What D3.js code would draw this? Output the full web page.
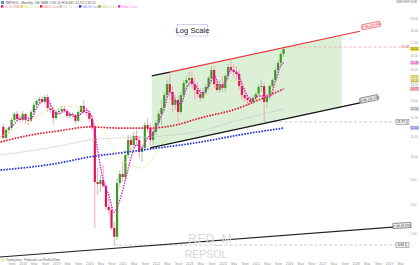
<!DOCTYPE html>
<html>
<head>
<meta charset="utf-8">
<script src="https://cdn.jsdelivr.net/npm/d3@7"></script>
<style>
  body { margin: 0; background: #fff; }
  svg { display: block; font-family: "Liberation Sans", Arial, sans-serif; }
</style>
</head>
<body>
<div id="chart"></div>
<script>
// monthly candles, first one is Jun 2017 (month index counted from Jan 2018)
var firstMonth = -7;
var opens = [11.50, 10.93, 11.34, 11.44, 11.88, 12.22, 11.94,
  11.88, 12.22, 11.88, 11.83, 12.33, 12.74, 12.98, 13.10, 12.92, 13.22, 12.56, 12.44,
  11.99, 12.33, 12.39, 12.50, 12.39, 12.10, 12.22, 12.16, 11.83, 12.33, 12.68, 12.33,
  12.27, 11.94, 11.50, 8.90, 8.82, 8.98, 8.74, 7.93, 7.81, 7.19, 6.90, 8.86,
  9.24, 9.11, 10.09, 10.82, 10.57, 11.03, 10.82, 10.24, 10.43, 11.60, 11.44, 10.82,
  11.24, 11.72, 12.22, 12.56, 13.34, 14.04, 13.53, 12.74, 13.04, 12.33, 13.34, 14.11,
  14.31, 14.44, 14.04, 13.66, 13.40, 13.16, 13.53, 13.85, 14.44, 14.99, 14.04, 13.66,
  14.04, 13.78, 14.58, 15.20, 14.99, 14.85, 14.71, 13.91, 13.34, 13.16, 13.04, 12.92,
  13.16, 13.40, 13.85, 13.91, 12.92, 13.28, 13.91, 14.31, 14.99, 15.49, 16.15];
var highs = [11.66, 11.44, 11.55, 11.99, 12.33, 12.39, 12.16,
  12.39, 12.27, 12.10, 12.44, 12.92, 13.10, 13.22, 13.28, 13.34, 13.40, 12.86, 12.62,
  12.44, 12.56, 12.68, 12.68, 12.50, 12.33, 12.33, 12.22, 12.44, 12.74, 13.04, 12.56,
  12.44, 12.16, 11.66, 9.50, 9.20, 9.63, 8.90, 8.27, 7.96, 7.39, 9.07, 9.41,
  9.77, 10.33, 11.08, 11.08, 11.24, 11.34, 11.03, 10.62, 11.77, 11.99, 11.72, 11.44,
  11.88, 12.44, 13.04, 13.53, 14.31, 14.85, 13.91, 13.34, 13.28, 13.53, 14.31, 14.58,
  14.85, 14.92, 14.44, 14.17, 13.78, 13.78, 14.04, 14.58, 15.27, 15.27, 14.31, 14.31,
  14.58, 14.71, 15.41, 15.70, 15.41, 15.27, 14.99, 14.31, 13.78, 13.40, 13.28, 13.34,
  13.53, 14.04, 14.31, 14.17, 13.40, 14.04, 14.44, 15.13, 15.70, 16.30, 16.68];
var lows = [10.82, 10.82, 11.13, 11.34, 11.77, 11.83, 11.72,
  11.77, 11.66, 11.60, 11.77, 12.22, 12.56, 12.80, 12.80, 12.80, 12.33, 12.27, 11.60,
  11.88, 12.22, 12.27, 12.27, 11.99, 11.99, 11.99, 11.66, 11.77, 12.16, 12.22, 12.10,
  11.77, 11.34, 7.19, 8.38, 8.50, 8.66, 7.81, 7.64, 7.12, 6.64, 6.80, 8.66,
  8.90, 8.98, 9.95, 10.33, 10.43, 10.57, 9.95, 9.77, 10.33, 11.24, 10.52, 10.57,
  11.08, 11.44, 11.60, 12.33, 13.16, 13.04, 12.33, 12.44, 11.77, 12.22, 13.16, 13.66,
  13.91, 13.78, 13.04, 13.16, 12.92, 13.04, 13.34, 13.66, 14.17, 13.78, 13.53, 13.47,
  13.53, 13.53, 14.31, 14.71, 14.44, 14.31, 13.66, 13.04, 12.92, 12.68, 12.74, 12.80,
  12.98, 13.28, 13.53, 11.77, 12.56, 13.04, 13.66, 14.17, 14.78, 15.27, 15.92];
var closes = [10.93, 11.34, 11.44, 11.88, 12.22, 11.94, 11.88,
  12.22, 11.88, 11.83, 12.33, 12.74, 12.98, 13.10, 12.92, 13.22, 12.56, 12.44, 11.99,
  12.33, 12.39, 12.50, 12.39, 12.10, 12.22, 12.16, 11.83, 12.33, 12.68, 12.33, 12.27,
  11.94, 11.50, 8.90, 8.82, 8.98, 8.74, 7.93, 7.81, 7.19, 6.90, 8.86, 9.24,
  9.11, 10.09, 10.82, 10.57, 11.03, 10.82, 10.24, 10.43, 11.60, 11.44, 10.82, 11.24,
  11.72, 12.22, 12.56, 13.34, 14.04, 13.53, 12.74, 13.04, 12.33, 13.34, 14.11, 14.31,
  14.44, 14.04, 13.66, 13.40, 13.16, 13.53, 13.85, 14.44, 14.99, 14.04, 13.66, 14.04,
  13.78, 14.58, 15.20, 14.99, 14.85, 14.71, 13.91, 13.34, 13.16, 13.04, 12.92, 13.16,
  13.40, 13.85, 13.91, 12.92, 13.28, 13.91, 14.31, 14.99, 15.49, 16.15, 16.52];

// moving averages: [month index, price]
var maFast = [[-5, 11.44], [-3, 11.66], [-1, 11.99], [1, 11.99], [3, 11.94], [5, 12.56], [7, 12.98],
  [9, 13.04], [11, 12.44], [13, 12.22], [15, 12.39], [17, 12.22], [19, 12.05], [21, 12.22], [23, 12.44],
  [25, 11.99], [27, 10.33], [29, 8.98], [31, 8.38], [33, 7.74], [35, 8.19], [37, 8.98], [39, 9.95],
  [41, 10.57], [43, 10.43], [45, 10.93], [47, 11.18], [49, 11.77], [51, 12.56], [53, 13.53], [55, 13.04],
  [57, 12.80], [59, 13.78], [61, 14.17], [63, 13.78], [65, 13.40], [67, 13.91], [69, 14.58], [71, 13.91],
  [73, 14.17], [75, 14.99], [77, 14.85], [79, 14.04], [81, 13.28], [83, 13.04], [85, 13.28], [87, 13.28],
  [89, 13.22], [91, 14.17], [93, 15.27], [94, 15.49]];
var maYellow = [[-8, 10.98], [3, 11.88], [12, 12.62], [17, 12.68], [24, 12.27], [30, 11.08], [35, 9.95],
  [43, 9.50], [49, 10.33], [55, 11.60], [64, 13.04], [71, 13.98], [77, 14.31], [83, 13.78], [87, 13.22], [94, 14.51]];
var maRed = [[-8, 10.72], [3, 11.08], [13, 11.29], [24, 11.50], [35, 11.44], [46, 11.44], [55, 11.60],
  [64, 11.99], [78, 12.56], [85, 13.04], [94, 13.72]];
var maGrey = [[-8, 10.09], [13, 10.52], [24, 10.82], [35, 10.93], [46, 10.98], [64, 11.29], [78, 11.88], [94, 12.50]];
var maBlue = [[-8, 9.41], [13, 9.72], [24, 10.00], [35, 10.19], [46, 10.38], [64, 10.72], [78, 11.08], [94, 11.44]];

// drawn objects: channel and support line, [month, price] ends
var channelTop = [[46.5, 14.58], [121.5, 17.95]];
var channelBottom = [[45.9, 10.43], [121.5, 12.86]];
var supportLine = [[-8.2, 6.28], [139.6, 7.26]];
var levels = [{ from: 94, price: 16.68, color: "#f2a3a8" }, { from: 87, price: 11.77, color: "#bdbdbd" }, { from: 33, price: 6.64, color: "#bdbdbd" }];

var priceTicks = [7, 8, 9, 10, 11, 12, 13, 14, 15, 16, 17, 18, 19];
var monthNames = { 0: null, 4: "May", 8: "Sept" };

var legendItems = [
  { color: "#e8174a", text: "Vol 20 SMA" },
  { color: "#d8d020", text: "MA 12 close" },
  { color: "#e8172b", text: "MA 50 close" },
  { color: "#b8b8b8", text: "MA 100 close" },
  { color: "#1a2fe0", text: "MA 200 close" },
  { color: "#a8a020", text: "MA 12 close" },
  { color: "#d61fd6", text: "EMA 5 close" }
];

var W = 420, H = 265, plotRight = 409, plotBottom = 258;

var svg = d3.select("#chart").append("svg")
  .attr("width", W)
  .attr("height", H);

var x = d3.scaleLinear().domain([0, 120]).range([22.7, 355.7]);
var y = d3.scaleLog().domain([10, 20]).range([157, 7.97]);

svg.append("clipPath").attr("id", "plot")
  .append("rect").attr("x", 0).attr("y", 0).attr("width", plotRight).attr("height", plotBottom);

var plot = svg.append("g").attr("clip-path", "url(#plot)");

// watermark
svg.append("text").attr("x", 210).attr("y", 243).attr("text-anchor", "middle")
  .attr("font-size", 12.5).attr("fill", "#dcdcdc").text("RED_M");
svg.append("text").attr("x", 206).attr("y", 258).attr("text-anchor", "middle")
  .attr("font-size", 10.5).attr("fill", "#d6d6d6").text("REPSOL");

// channel fill
var fx0 = channelTop[0][0], fx1 = 115;
function lineAt(seg, m) {
  var t = (m - seg[0][0]) / (seg[1][0] - seg[0][0]);
  return Math.exp(Math.log(seg[0][1]) + t * (Math.log(seg[1][1]) - Math.log(seg[0][1])));
}
var fillPts = [[fx0, lineAt(channelTop, fx0)], [fx1, lineAt(channelTop, fx1)],
  [fx1, lineAt(channelBottom, fx1)], [fx0, lineAt(channelBottom, fx0)]];
plot.append("path")
  .attr("d", "M" + fillPts.map(d => x(d[0]) + "," + y(d[1])).join("L") + "Z")
  .attr("fill", "#dcf0d8");

// horizontal levels
levels.forEach(function(l) {
  plot.append("line")
    .attr("x1", x(l.from)).attr("x2", 400)
    .attr("y1", y(l.price)).attr("y2", y(l.price))
    .attr("stroke", l.color).attr("stroke-width", 0.8)
    .attr("stroke-dasharray", "3,2");
});

// candles
var candles = opens.map(function(o, i) {
  return { m: firstMonth + i, o: o, h: highs[i], l: lows[i], c: closes[i] };
});
var up = "#3a9c22", down = "#e3184c";
plot.selectAll(".wick").data(candles).enter().append("line")
  .attr("x1", d => x(d.m)).attr("x2", d => x(d.m))
  .attr("y1", d => y(d.h)).attr("y2", d => y(d.l))
  .attr("stroke", d => d.c >= d.o ? "#9cc98e" : "#f1a0b4")
  .attr("stroke-width", 0.9);
plot.selectAll(".body").data(candles).enter().append("rect")
  .attr("x", d => x(d.m) - 1.1)
  .attr("width", 2.2)
  .attr("y", d => y(Math.max(d.o, d.c)))
  .attr("height", d => Math.max(0.8, Math.abs(y(d.o) - y(d.c))))
  .attr("fill", d => d.c >= d.o ? up : down);

// moving averages
var line = d3.line().x(d => x(d[0])).y(d => y(d[1])).curve(d3.curveMonotoneX);
function drawMa(data, color, width, dash) {
  plot.append("path").datum(data)
    .attr("d", line)
    .attr("fill", "none")
    .attr("stroke", color)
    .attr("stroke-width", width)
    .attr("stroke-dasharray", dash);
}
drawMa(maBlue, "#1a2fe0", 1.7, "1.6,1.3");
drawMa(maGrey, "#c4c4c4", 1, "1.2,1");
drawMa(maRed, "#e8172b", 1.7, "1.6,1.3");
drawMa(maYellow, "#e6e48c", 0.8, "2,1");
drawMa(maFast, "#d61fd6", 1.4, "1.4,1.2");

// channel and support lines
var straight = d3.line().x(d => x(d[0])).y(d => y(d[1]));
var redStart = 53;
plot.append("path").datum([channelTop[0], [redStart, lineAt(channelTop, redStart)]])
  .attr("d", straight).attr("stroke", "#111").attr("stroke-width", 1.2);
plot.append("path").datum([[redStart, lineAt(channelTop, redStart)], channelTop[1]])
  .attr("d", straight).attr("stroke", "#e8313b").attr("stroke-width", 1.2);
plot.append("path").datum(channelBottom)
  .attr("d", straight).attr("stroke", "#111").attr("stroke-width", 1.2);
plot.append("path").datum(supportLine)
  .attr("d", straight).attr("stroke", "#222").attr("stroke-width", 1.2);

function tagBox(cx, cy, angle, txt, stroke, fill, color) {
  var g = svg.append("g").attr("transform", `translate(${cx},${cy}) rotate(${angle})`);
  g.append("rect").attr("x", -9).attr("y", -2.6).attr("width", 18).attr("height", 5.2)
    .attr("fill", fill).attr("stroke", stroke).attr("stroke-width", 0.5);
  g.append("text").attr("y", 1.3).attr("text-anchor", "middle").attr("font-size", 3.4)
    .attr("fill", color).text(txt);
}
tagBox(371, 25.5, -12, "17.95 (12.4%)", "#e8313b", "#fde4e4", "#e8313b");
tagBox(369, 99, -12, "12.86 (22.1%)", "#333", "#eeeeee", "#333");
tagBox(402, 225.5, -4, "7.26 (9.1%)", "#333", "#eeeeee", "#333");

// level labels
svg.append("text").attr("x", 401).attr("y", y(16.68) + 1.2).attr("font-size", 3.2)
  .attr("fill", "#e8313b").text("16.68");
[11.77, 6.64].forEach(function(p) {
  svg.append("rect").attr("x", 396).attr("y", y(p) - 2.5).attr("width", 13).attr("height", 5)
    .attr("fill", "#f4f4f4").attr("stroke", "#555").attr("stroke-width", 0.4);
  svg.append("text").attr("x", 402.5).attr("y", y(p) + 1.2).attr("text-anchor", "middle")
    .attr("font-size", 3.2).attr("fill", "#222").text(p.toFixed(2) + " ()");
});

// log scale box
svg.append("rect").attr("x", 177.5).attr("y", 24.5).attr("width", 30).attr("height", 11.5)
  .attr("fill", "#fff").attr("stroke", "#c3cdea").attr("stroke-width", 0.8);
svg.append("text").attr("x", 192.5).attr("y", 33).attr("text-anchor", "middle")
  .attr("font-size", 7.6).attr("fill", "#222").text("Log Scale");

// price axis
var yAxis = svg.append("g")
  .attr("transform", `translate(${plotRight + 1},0)`)
  .call(d3.axisRight(y).tickValues(priceTicks).tickSize(0).tickFormat(d3.format(".2f")));
yAxis.select(".domain").remove();
yAxis.selectAll("text").attr("font-size", 3).attr("fill", "#999").attr("x", 0.5);

// value badges on the price axis
var badges = [
  { p: closes[closes.length - 1], bg: "#f3e23a", fg: "#333" },
  { p: maFast[maFast.length - 1][1], bg: "#f3c4f3", fg: "#a010a0" },
  { p: maYellow[maYellow.length - 1][1], bg: "#f5f0a8", fg: "#8a8200" },
  { p: 14.25, bg: "#ece6a4", fg: "#7a7400" },
  { p: maRed[maRed.length - 1][1], bg: "#f7c3c8", fg: "#c01020" },
  { p: maGrey[maGrey.length - 1][1], bg: "#e2e2e2", fg: "#555" },
  { p: maBlue[maBlue.length - 1][1], bg: "#c9cefa", fg: "#1a2fe0" }
];
badges.forEach(function(b) {
  svg.append("rect").attr("x", 410).attr("y", y(b.p) - 2.2).attr("width", 9).attr("height", 4.4)
    .attr("fill", b.bg);
  svg.append("text").attr("x", 414.5).attr("y", y(b.p) + 1.1).attr("text-anchor", "middle")
    .attr("font-size", 3).attr("fill", b.fg).text(b.p.toFixed(2));
});

// time axis
var timeTicks = d3.range(-4, 137, 4);
var xAxis = svg.append("g")
  .attr("transform", "translate(0,259)")
  .call(d3.axisBottom(x).tickValues(timeTicks).tickSize(0)
    .tickFormat(function(m) {
      var mm = ((m % 12) + 12) % 12;
      return mm === 0 ? String(2018 + m / 12) : monthNames[mm];
    }));
xAxis.select(".domain").remove();
xAxis.selectAll("text").attr("font-size", 3.4).attr("fill", "#999").attr("dy", "0.8em");

// header
svg.append("rect").attr("x", 1).attr("y", 1).attr("width", 3).attr("height", 3).attr("fill", "#5b8fd6");
svg.append("text").attr("x", 5.5).attr("y", 3.6).attr("font-size", 3.4).attr("fill", "#555")
  .text("REPSOL, Monthly, 1M, BME  O16.15 H16.68 L15.92 C16.52");
legendItems.forEach(function(item, i) {
  var lx = 1 + i * 19.5;
  svg.append("rect").attr("x", lx).attr("y", 5.2).attr("width", 2.4).attr("height", 2.4).attr("fill", item.color);
  svg.append("text").attr("x", lx + 3.4).attr("y", 7.5).attr("font-size", 2.9)
    .attr("fill", item.color).attr("opacity", 0.55).text(item.text);
});
svg.append("text").attr("x", 417).attr("y", 3.4).attr("text-anchor", "end").attr("font-size", 3)
  .attr("fill", "#777").text("BME:REP EUR");
svg.append("text").attr("x", 1).attr("y", 261).attr("font-size", 2.9).attr("fill", "#666")
  .text("⚡ TradingView · Publicado con ProRealTime");
</script>
</body>
</html>
